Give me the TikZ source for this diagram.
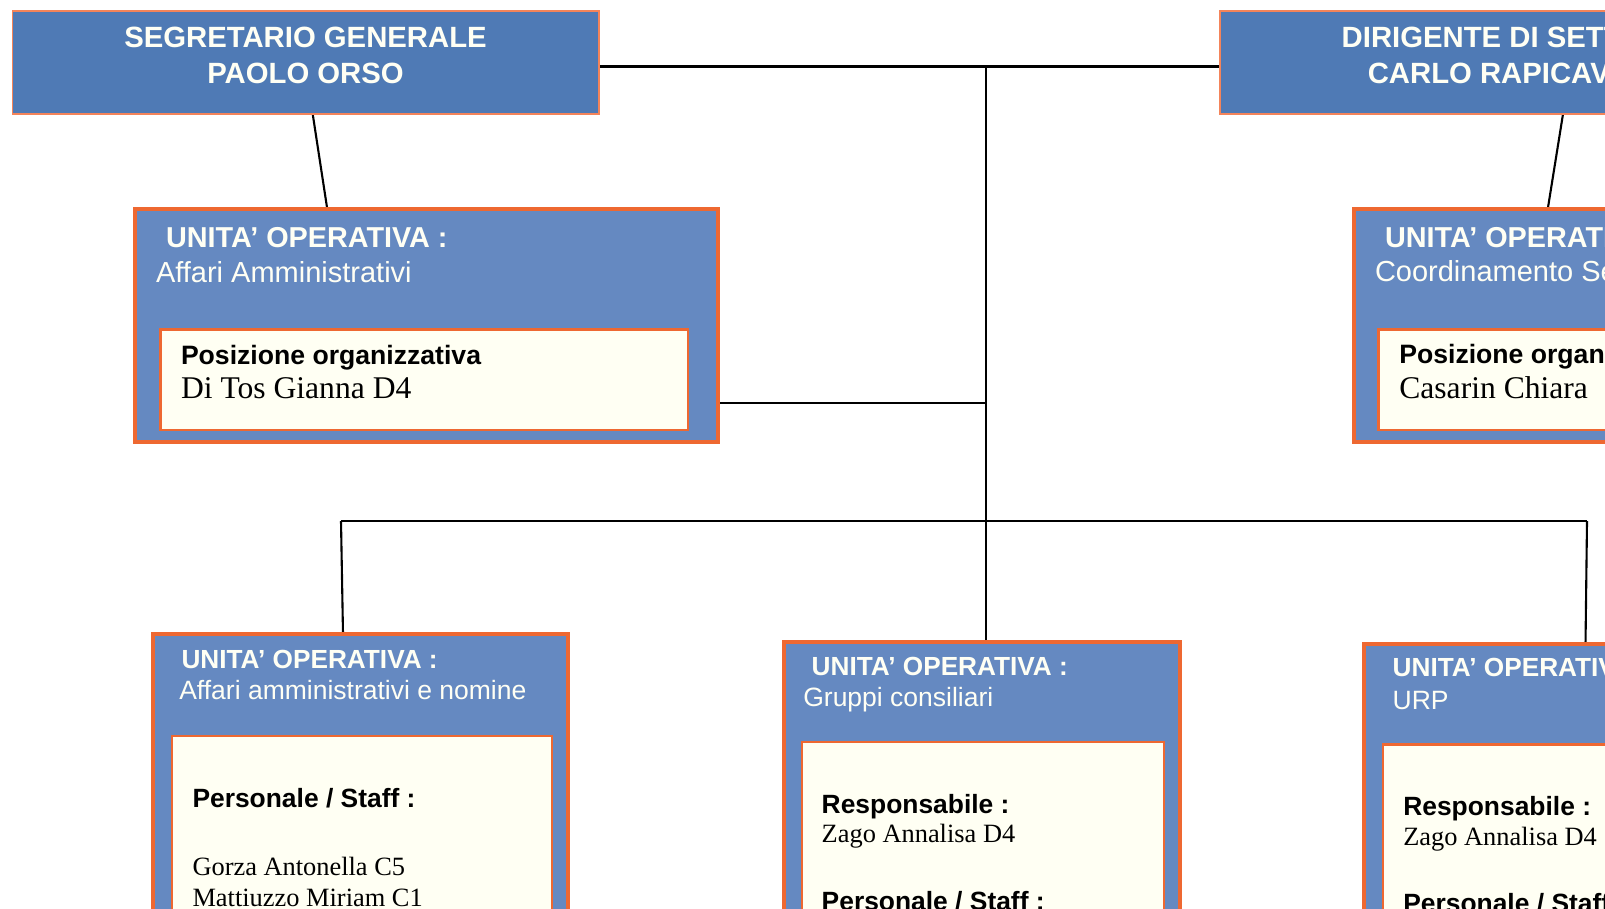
\documentclass[tikz,border=0pt]{standalone}
\usepackage{fontspec}
\setmainfont{Liberation Serif}
\setsansfont{Liberation Sans}
\definecolor{hdrblue}{HTML}{4F7AB5}
\definecolor{uoblue}{HTML}{6589C1}
\definecolor{orng}{HTML}{EE6831}
\definecolor{hdrorng}{HTML}{F4845A}
\definecolor{ivory}{HTML}{FFFFF3}
\definecolor{txtw}{HTML}{FFFFF4}
\tikzset{
  hdrbox/.style={draw=hdrorng, line width=1.5pt, fill=hdrblue, rectangle, anchor=north west, inner sep=0pt, outer sep=0pt},
  uobox/.style={draw=orng, line width=4pt, fill=uoblue, rectangle, anchor=north west, inner sep=0pt, outer sep=0pt},
  inbox/.style={draw=orng, line width=2.5pt, fill=ivory, rectangle, anchor=north west, inner sep=0pt, outer sep=0pt},
  hdrtxt/.style={anchor=base, inner sep=0pt, outer sep=0pt, text=txtw, font=\sffamily\bfseries\fontsize{29.3}{35}\selectfont},
  lbl/.style={anchor=base west, inner sep=0pt, outer sep=0pt},
  uotitle/.style={lbl, text=txtw, font=\sffamily\bfseries\fontsize{28.8}{34}\selectfont},
  uosub/.style={lbl, text=txtw, font=\sffamily\fontsize{29}{35}\selectfont},
  uotitles/.style={lbl, text=txtw, font=\sffamily\bfseries\fontsize{26.2}{31}\selectfont},
  uosubs/.style={lbl, text=txtw, font=\sffamily\fontsize{26.5}{32}\selectfont},
  head/.style={lbl, text=black, font=\sffamily\bfseries\fontsize{26.6}{32}\selectfont},
  heads/.style={lbl, text=black, font=\sffamily\bfseries\fontsize{26.4}{32}\selectfont},
  namebig/.style={lbl, text=black, font=\rmfamily\fontsize{31.6}{37}\selectfont},
  names/.style={lbl, text=black, font=\rmfamily\fontsize{26.4}{31}\selectfont},
  conn/.style={draw=black, line width=2.1pt}
}
\begin{document}
\begin{tikzpicture}[x=1pt,y=-1pt]
\useasboundingbox (0,0) rectangle (1605,908);
\clip (0,0) rectangle (1605,908);
\fill[white] (0,0) rectangle (1605,908);

% connectors (drawn first, behind boxes)
\coordinate (jTop) at (985.7,66.5);
\coordinate (jMid) at (985.7,403);
\coordinate (jBus) at (985.7,521);
\coordinate (jBusL) at (341,521);
\coordinate (jBusR) at (1587,521);
\coordinate (hLr) at (598.8,66.5);
\coordinate (hRl) at (1220,66.5);
\coordinate (hLb) at (312.7,114);
\coordinate (hRb) at (1563,114);
\coordinate (uoAt) at (327.3,209.3);
\coordinate (uoBt) at (1547.7,209.3);
\coordinate (uoAr) at (717.5,403);
\coordinate (uoCt) at (343,633.7);
\coordinate (uoDt) at (985.7,642);
\coordinate (uoEt) at (1585.5,643.7);

\draw[conn] (hLr) -- (jTop) -- (hRl);
\draw[conn] (jTop) -- (jMid) -- (jBus) -- (uoDt);
\draw[conn] (uoAr) -- (jMid);
\draw[conn] (jBusL) -- (jBus) -- (jBusR);
\draw[conn] (jBusL) -- (uoCt);
\draw[conn] (jBusR) -- (uoEt);
\draw[conn] (hLb) -- (uoAt);
\draw[conn] (hRb) -- (uoBt);

% header boxes
\node[hdrbox, minimum width=586.5pt, minimum height=103pt] (hL) at (12.3,11) {};
\node[hdrbox, minimum width=586.5pt, minimum height=103pt] (hR) at (1220,11) {};
\node[hdrtxt] (hL1) at (305.5,47.5) {SEGRETARIO GENERALE};
\node[hdrtxt] (hL2) at (305.5,83.3) {PAOLO ORSO};
\node[hdrtxt] (hR1) at (1513.2,47.5) {DIRIGENTE DI SETTORE};
\node[hdrtxt] (hR2) at (1513.2,83.3) {CARLO RAPICAVOLI};

% UO top left
\node[uobox, minimum width=582.5pt, minimum height=232.2pt] (uoA) at (135,209.3) {};
\node[inbox, minimum width=527.5pt, minimum height=100.5pt] (inA) at (160.5,329.5) {};
\node[uotitle] (tA1) at (166,247) {UNITA’ OPERATIVA :};
\node[uosub] (tA2) at (156,282) {Affari Amministrativi};
\node[head] (tA3) at (181,364) {Posizione organizzativa};
\node[namebig] (tA4) at (181,398.5) {Di Tos Gianna D4};

% UO top right
\node[uobox, minimum width=582.5pt, minimum height=232.2pt] (uoB) at (1353.7,209.3) {};
\node[inbox, minimum width=527.5pt, minimum height=100.5pt] (inB) at (1378.5,329.5) {};
\node[uotitle] (tB1) at (1385,247) {UNITA’ OPERATIVA :};
\node[uosub] (tB2) at (1375,281) {Coordinamento Segreteria};
\node[head] (tB3) at (1399.3,363.5) {Posizione organizzativa};
\node[namebig] (tB4) at (1399.3,398.5) {Casarin Chiara};

% UO bottom left
\node[uobox, minimum width=415.5pt, minimum height=400pt] (uoC) at (152.5,633.7) {};
\node[inbox, minimum width=380pt, minimum height=300pt] (inC) at (172,736) {};
\node[uotitles] (tC1) at (181.5,668) {UNITA’ OPERATIVA :};
\node[uosubs] (tC2) at (179.3,699) {Affari amministrativi e nomine};
\node[heads] (tC3) at (192.5,807.3) {Personale / Staff :};
\node[names] (tC4) at (192.5,875) {Gorza Antonella C5};
\node[names] (tC5) at (192.5,906) {Mattiuzzo Miriam C1};

% UO bottom middle
\node[uobox, minimum width=396pt, minimum height=400pt] (uoD) at (783.7,642) {};
\node[inbox, minimum width=362pt, minimum height=300pt] (inD) at (802,742) {};
\node[uotitles] (tD1) at (811.7,675.7) {UNITA’ OPERATIVA :};
\node[uosubs] (tD2) at (803.3,706) {Gruppi consiliari};
\node[heads] (tD3) at (821.7,813.3) {Responsabile :};
\node[names] (tD4) at (821.7,842.3) {Zago Annalisa D4};
\node[heads] (tD5) at (821.7,910) {Personale / Staff :};

% UO bottom right
\node[uobox, minimum width=400pt, minimum height=400pt] (uoE) at (1363.7,643.7) {};
\node[inbox, minimum width=360pt, minimum height=300pt] (inE) at (1383,744.5) {};
\node[uotitles] (tE1) at (1392.7,676.7) {UNITA’ OPERATIVA :};
\node[uosubs] (tE2) at (1392.7,709) {URP};
\node[heads] (tE3) at (1403.3,815) {Responsabile :};
\node[names] (tE4) at (1403.3,845) {Zago Annalisa D4};
\node[heads] (tE5) at (1403.3,912) {Personale / Staff :};
\end{tikzpicture}
\end{document}
